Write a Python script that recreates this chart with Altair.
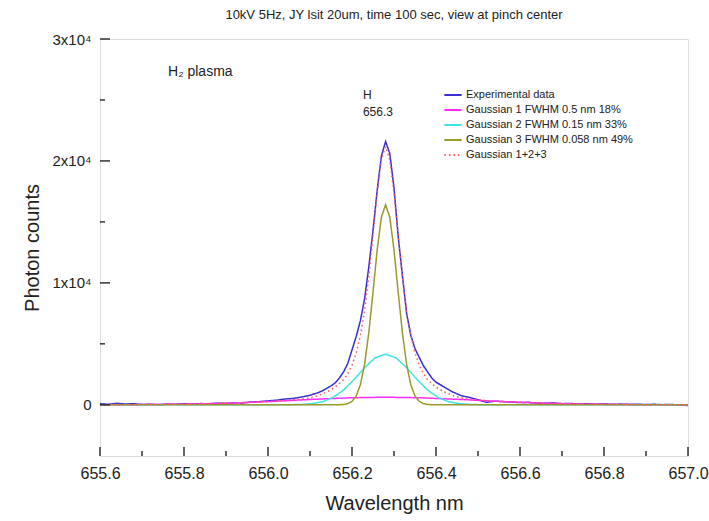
import altair as alt
import pandas as pd

# ---------------- data ----------------
exp_wl = [655.60, 655.62, 655.64, 655.66, 655.68, 655.70, 655.72, 655.74, 655.76, 655.78,
          655.80, 655.82, 655.84, 655.86, 655.88, 655.90, 655.92, 655.94, 655.96, 655.98,
          656.00, 656.02, 656.04, 656.06, 656.08, 656.10, 656.12, 656.13, 656.14, 656.15,
          656.16, 656.17, 656.18, 656.19, 656.20, 656.21, 656.22, 656.23, 656.24, 656.25,
          656.26, 656.27, 656.28, 656.29, 656.30, 656.31, 656.32, 656.33, 656.34, 656.35,
          656.36, 656.37, 656.38, 656.39, 656.40, 656.41, 656.42, 656.43, 656.44, 656.46,
          656.48, 656.50, 656.52, 656.54, 656.56, 656.58, 656.60, 656.62, 656.64, 656.66,
          656.68, 656.70, 656.72, 656.74, 656.76, 656.78, 656.80, 656.82, 656.84, 656.86,
          656.88, 656.90, 656.92, 656.94, 656.96, 656.98, 657.00]
exp_counts = [80, 40, 120, 60, 90, 20, 50, 10, 60, 40,
              80, 60, 100, 70, 130, 110, 170, 150, 230, 260,
              320, 380, 470, 520, 640, 780, 1000, 1150, 1350, 1550,
              1800, 2200, 2700, 3400, 4500, 5600, 6900, 8700, 11300, 14300,
              17600, 20400, 21600, 20600, 17800, 13800, 10600, 7500, 5700, 4600,
              3900, 3200, 2700, 2200, 1850, 1650, 1450, 1250, 1050, 750,
              600, 420, 200, 300, 260, 220, 180, 200, 140, 120,
              150, 90, 110, 60, 90, 50, 70, 40, 60, 30,
              50, 20, 40, 10, 30, -20, -60]

g1_wl = [655.60, 655.70, 655.80, 655.90, 656.00, 656.10, 656.20, 656.28, 656.36, 656.46,
         656.56, 656.66, 656.76, 656.86, 656.96, 657.00]
g1_counts = [4, 14, 48, 125, 260, 435, 580, 620, 580, 435,
             260, 125, 48, 14, 4, 2]

g2_wl = [655.60, 656.00, 656.030, 656.055, 656.080, 656.105, 656.130, 656.155, 656.180, 656.205,
         656.230, 656.255, 656.280, 656.305, 656.330, 656.355, 656.380, 656.405, 656.430, 656.455,
         656.480, 656.505, 656.530, 656.560, 657.00]
g2_counts = [0, 0, 2, 8, 30, 95, 257, 600, 1212, 2075,
             3050, 3850, 4150, 3850, 3050, 2075, 1212, 600, 257, 95,
             30, 8, 2, 0, 0]

g3_wl = [655.60, 656.15, 656.17, 656.18, 656.19, 656.20, 656.21, 656.22, 656.23, 656.24,
         656.25, 656.26, 656.27, 656.28, 656.29, 656.30, 656.31, 656.32, 656.33, 656.34,
         656.35, 656.36, 656.37, 656.38, 656.39, 656.41, 657.00]
g3_counts = [0, 0, 7, 28, 93, 277, 720, 1650, 3330, 5910,
             9240, 12710, 15380, 16400, 15380, 12710, 9240, 5910, 3330, 1650,
             720, 277, 93, 28, 7, 0, 0]

sum_wl = [655.60, 655.70, 655.80, 655.90, 656.00, 656.05, 656.10, 656.12, 656.14, 656.16,
          656.18, 656.19, 656.20, 656.21, 656.22, 656.23, 656.24, 656.25, 656.26, 656.27,
          656.28, 656.29, 656.30, 656.31, 656.32, 656.33, 656.34, 656.35, 656.36, 656.37,
          656.38, 656.40, 656.42, 656.44, 656.46, 656.51, 656.56, 656.66, 656.76, 656.86,
          656.96, 657.00]
sum_counts = [4, 14, 48, 125, 260, 360, 560, 760, 1050, 1450,
              2050, 2550, 3250, 4250, 5700, 7700, 10500, 13900, 17400, 20100,
              21170, 20100, 17400, 13900, 10500, 7700, 5700, 4250, 3250, 2550,
              2050, 1450, 1050, 760, 560, 360, 260, 125, 48, 14,
              4, 2]

series_names = ["Experimental data",
                "Gaussian 1 FWHM 0.5 nm 18%",
                "Gaussian 2 FWHM 0.15 nm 33%",
                "Gaussian 3 FWHM 0.058 nm 49%",
                "Gaussian 1+2+3"]
series_colors = ["#3a2fd2", "#ff2bff", "#3fe3e6", "#9a992c", "#ff5a5a"]
series_dash = [[1, 0], [1, 0], [1, 0], [1, 0], [1.5, 3]]

x_major = [655.6, 655.8, 656.0, 656.2, 656.4, 656.6, 656.8, 657.0]
x_minor = [655.7, 655.9, 656.1, 656.3, 656.5, 656.7, 656.9]
y_major = [0, 10000, 20000, 30000]
y_minor = [5000, 15000, 25000]

notes_text = ["H\u2082 plasma", "H", "656.3"]
notes_wl = [655.762, 656.226, 656.226]
notes_counts = [27300, 25400, 24000]
notes_size = [14, 12, 12]

title_text = "10kV 5Hz, JY lsit 20um, time 100 sec, view at pinch center"

# ---------------- build tables ----------------
rows = []
for name, wl, ct in zip(series_names,
                        [exp_wl, g1_wl, g2_wl, g3_wl, sum_wl],
                        [exp_counts, g1_counts, g2_counts, g3_counts, sum_counts]):
    for i, (w, c) in enumerate(zip(wl, ct)):
        rows.append({"series": name, "wl": w, "counts": c, "order": i})
curves = pd.DataFrame(rows)

FONT = "Liberation Sans"
W, H = 588, 417
xdom = [655.6, 657.0]
ydom = [-4200, 30000]

xs = alt.Scale(domain=xdom, nice=False, zero=False)
ys = alt.Scale(domain=ydom, nice=False, zero=False)

x_axis = alt.Axis(values=x_major, format=".1f", tickSize=0, grid=False, domain=False,
                  labelFlush=False, labelOverlap=False, labelAlign="center",
                  labelFontSize=16, labelPadding=9, labelColor="#222",
                  title="Wavelength nm", titleFontSize=20, titleFontWeight="normal",
                  titleColor="#222", titlePadding=12, labelFont=FONT, titleFont=FONT)
y_axis = alt.Axis(values=y_major, tickSize=0, grid=False, domain=False,
                  labelFlush=False, labelOverlap=False,
                  labelExpr="datum.value == 0 ? '0' : format(datum.value/10000, 'd') + 'x10\u2074'",
                  labelFontSize=15, labelPadding=9, labelColor="#222",
                  title="Photon counts", titleFontSize=20, titleFontWeight="normal",
                  titleColor="#222", titlePadding=10, labelFont=FONT, titleFont=FONT)

lines = alt.Chart(curves).mark_line(strokeWidth=1.5, clip=True).encode(
    x=alt.X("wl:Q", scale=xs, axis=x_axis),
    y=alt.Y("counts:Q", scale=ys, axis=y_axis),
    color=alt.Color("series:N", scale=alt.Scale(domain=series_names, range=series_colors),
                    sort=series_names,
                    legend=alt.Legend(title=None, orient="none", legendX=343, legendY=46,
                                      symbolType="stroke", symbolSize=300,
                                      symbolStrokeWidth=2, labelFontSize=11,
                                      labelFont=FONT, labelColor="#222",
                                      rowPadding=0, labelOffset=3, labelLimit=300)),
    strokeDash=alt.StrokeDash("series:N",
                              scale=alt.Scale(domain=series_names, range=series_dash),
                              sort=series_names, legend=None),
    order="order:Q",
)

xmaj_df = pd.DataFrame({"wl": x_major})
xmin_df = pd.DataFrame({"wl": x_minor})
ymaj_df = pd.DataFrame({"counts": y_major})
ymin_df = pd.DataFrame({"counts": y_minor})

TC = "#333"
xmaj_ticks = alt.Chart(xmaj_df).mark_tick(color=TC, thickness=1.5, size=9, opacity=1).encode(
    x=alt.X("wl:Q", scale=xs), y=alt.value(H - 4.5))
xmin_ticks = alt.Chart(xmin_df).mark_tick(color=TC, thickness=1.5, size=5, opacity=1).encode(
    x=alt.X("wl:Q", scale=xs), y=alt.value(H - 2.5))
ymaj_ticks = alt.Chart(ymaj_df).mark_tick(color=TC, thickness=1.5, size=10, opacity=1).encode(
    y=alt.Y("counts:Q", scale=ys), x=alt.value(5))
ymin_ticks = alt.Chart(ymin_df).mark_tick(color=TC, thickness=1.5, size=5, opacity=1).encode(
    y=alt.Y("counts:Q", scale=ys), x=alt.value(2.5))

notes = alt.Chart(pd.DataFrame({"t": notes_text, "wl": notes_wl, "counts": notes_counts,
                                "s": notes_size})).mark_text(
    align="left", baseline="middle", font=FONT, color="#222").encode(
    x=alt.X("wl:Q", scale=xs), y=alt.Y("counts:Q", scale=ys), text="t:N",
    size=alt.Size("s:Q", scale=None, legend=None))

chart = alt.layer(lines, xmaj_ticks, xmin_ticks, ymaj_ticks, ymin_ticks, notes).properties(
    width=W, height=H,
    title=alt.TitleParams(title_text, fontSize=13, fontWeight="normal", font=FONT,
                          color="#222", offset=10, anchor="middle"),
    autosize=alt.AutoSizeParams(type="none"),
    padding={"left": 100, "top": 39, "right": 21, "bottom": 65},
).configure_view(stroke="#444", strokeWidth=1.5).configure(background="white")

chart.save("out.html", embed_options={"renderer": "svg", "actions": False})
